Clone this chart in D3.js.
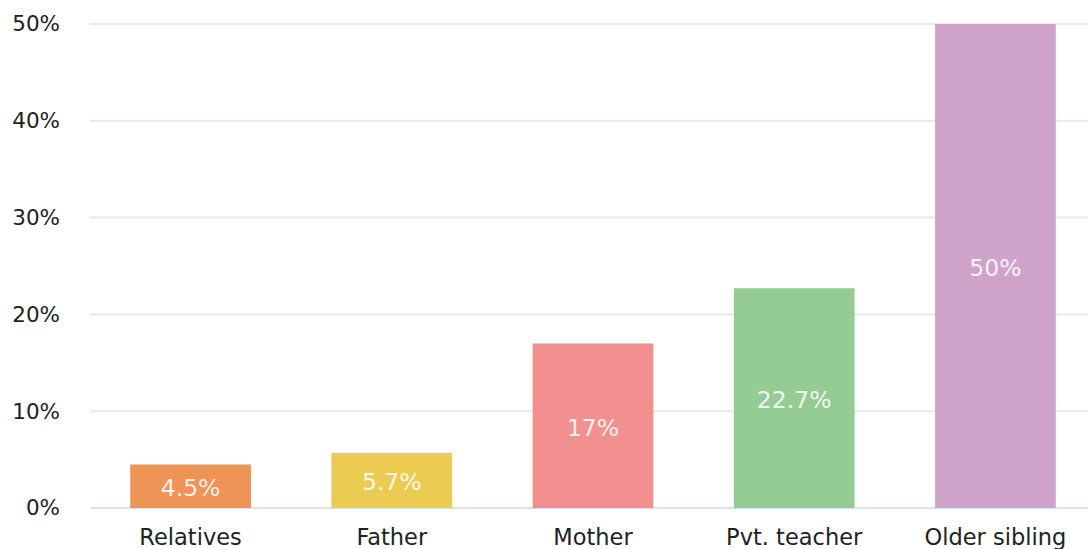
<!DOCTYPE html>
<html><head><meta charset="utf-8">
<script src="https://cdn.jsdelivr.net/npm/d3@7"></script>
<style>
html,body{margin:0;padding:0;background:#fff;}
svg{display:block;font-family:"DejaVu Sans",sans-serif;}
</style></head>
<body><svg id="c" width="1088" height="549"></svg>
<script>
const categories = ["Relatives","Father","Mother","Pvt. teacher","Older sibling"];
const values = [4.5, 5.7, 17, 22.7, 50];
const valueLabels = ["4.5%","5.7%","17%","22.7%","50%"];
const colors = ["#EE9456","#EBCB52","#F2908F","#94CC94","#D0A3CB"];
const yTicks = [0,10,20,30,40,50];

const svg = d3.select("#c");
const x = d3.scaleBand().domain(categories).range([90,1096]).paddingInner(0.4).paddingOuter(0.2);
const y = d3.scaleLinear().domain([0,50]).range([508,24]);

const yAxis = d3.axisLeft(y).tickValues(yTicks).tickFormat(d=>d+"%").tickSize(0).tickPadding(0);
const gy = svg.append("g").attr("transform","translate(60,0)").call(yAxis);
gy.select(".domain").remove();
gy.selectAll("text").attr("font-size",21.5).attr("fill","#222").attr("font-family","DejaVu Sans");

svg.append("g").selectAll("line").data(yTicks).join("line")
  .attr("x1",90).attr("x2",1088)
  .attr("y1",d=>y(d)).attr("y2",d=>y(d))
  .attr("stroke",d=>d===0?"#dbe2ee":"#e7e8ec").attr("stroke-width",2);

svg.append("g").selectAll("rect").data(values).join("rect")
  .attr("x",(d,i)=>x(categories[i]))
  .attr("width",x.bandwidth())
  .attr("y",d=>y(d))
  .attr("height",d=>y(0)-y(d))
  .attr("fill",(d,i)=>colors[i]);

svg.append("g").selectAll("text").data(values).join("text")
  .attr("x",(d,i)=>x(categories[i])+x.bandwidth()/2)
  .attr("y",d=>(y(d)+y(0))/2+2)
  .attr("text-anchor","middle").attr("dominant-baseline","central")
  .attr("font-size",23.5).attr("fill","#fff").attr("fill-opacity",0.88)
  .text((d,i)=>valueLabels[i]);

const xAxis = d3.axisBottom(x).tickSize(0).tickPadding(0);
const gx = svg.append("g").attr("transform","translate(0,508)").call(xAxis);
gx.select(".domain").remove();
gx.selectAll("text").attr("font-size",22.5).attr("fill","#222").attr("font-family","DejaVu Sans")
  .attr("dy",null).attr("y",37);
</script></body></html>
